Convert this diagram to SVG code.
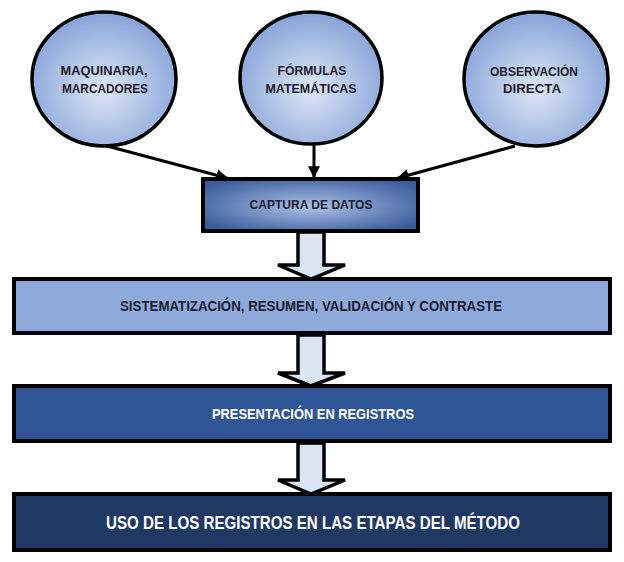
<svg xmlns="http://www.w3.org/2000/svg" width="624" height="562" viewBox="0 0 624 562">
  <defs>
    <radialGradient id="gCircle" cx="50%" cy="58%" r="55%">
      <stop offset="0" stop-color="#dfe8f7"/>
      <stop offset="1" stop-color="#8aa6d9"/>
    </radialGradient>
    <radialGradient id="gCapt" cx="50%" cy="50%" r="60%" fx="50%" fy="55%">
      <stop offset="0" stop-color="#adc2e6"/>
      <stop offset="1" stop-color="#3a5d9d"/>
    </radialGradient>
    <marker id="ah" viewBox="0 0 10 10" refX="9" refY="5" markerWidth="4" markerHeight="4" orient="auto" markerUnits="strokeWidth">
      <path d="M0,0 L10,5 L0,10 Z" fill="#000"/>
    </marker>
    <style>
      .circ { fill: url(#gCircle); stroke: #000; stroke-width: 3.5; }
      .box { stroke: #000; stroke-width: 4; }
      .t { font-family: "Liberation Sans", Arial, sans-serif; font-weight: bold; text-anchor: middle; }
      .dark { fill: #1b1c2c; }
      .light { fill: #ffffff; }
      .conn { stroke: #000; stroke-width: 3; fill: none; }
      .blk { fill: #dbe4f3; stroke: #000; stroke-width: 3.5; stroke-linejoin: miter; }
    </style>
  </defs>

  <g id="n-maquinaria">
    <ellipse class="circ" cx="104" cy="79" rx="72" ry="67"/>
    <text class="t dark" x="104" y="75" font-size="13.5" textLength="87" lengthAdjust="spacingAndGlyphs">MAQUINARIA,</text>
    <text class="t dark" x="105" y="93" font-size="13.5" textLength="86" lengthAdjust="spacingAndGlyphs">MARCADORES</text>
  </g>
  <g id="n-formulas">
    <ellipse class="circ" cx="311" cy="78" rx="71" ry="66"/>
    <text class="t dark" x="312" y="75" font-size="13.5" textLength="69" lengthAdjust="spacingAndGlyphs">FÓRMULAS</text>
    <text class="t dark" x="311" y="93" font-size="13.5" textLength="91" lengthAdjust="spacingAndGlyphs">MATEMÁTICAS</text>
  </g>
  <g id="n-observacion">
    <ellipse class="circ" cx="536" cy="79" rx="72" ry="67"/>
    <text class="t dark" x="534" y="76" font-size="13.5" textLength="88" lengthAdjust="spacingAndGlyphs">OBSERVACIÓN</text>
    <text class="t dark" x="532" y="93" font-size="13.5" textLength="58" lengthAdjust="spacingAndGlyphs">DIRECTA</text>
  </g>

  <g id="n-captura">
    <rect class="box" x="203" y="179" width="215" height="52" fill="url(#gCapt)"/>
    <text class="t dark" x="311" y="209" font-size="13.5" textLength="123" lengthAdjust="spacingAndGlyphs">CAPTURA DE DATOS</text>
  </g>
  <g id="n-sistematizacion">
    <rect class="box" x="14" y="279" width="596" height="54" fill="#8eaadb"/>
    <text class="t dark" x="311" y="311" font-size="15" textLength="382" lengthAdjust="spacingAndGlyphs">SISTEMATIZACIÓN, RESUMEN, VALIDACIÓN Y CONTRASTE</text>
  </g>
  <g id="n-presentacion">
    <rect class="box" x="14" y="386" width="596" height="55" fill="#2f5597"/>
    <text class="t light" x="313" y="419" font-size="15" textLength="202" lengthAdjust="spacingAndGlyphs">PRESENTACIÓN EN REGISTROS</text>
  </g>
  <g id="n-uso">
    <rect class="box" x="14" y="494" width="596" height="56" fill="#1f3864"/>
    <text class="t light" x="313" y="529" font-size="18.5" textLength="414" lengthAdjust="spacingAndGlyphs">USO DE LOS REGISTROS EN LAS ETAPAS DEL MÉTODO</text>
  </g>

  <g id="connectors">
    <line class="conn" x1="107" y1="146" x2="227" y2="178" marker-end="url(#ah)"/>
    <line class="conn" x1="314" y1="143" x2="314" y2="177" marker-end="url(#ah)"/>
    <line class="conn" x1="515" y1="146" x2="398" y2="178" marker-end="url(#ah)"/>
    <path class="blk" d="M298,232 L324,232 L324,265 L345,265 L311,279 L278,265 L298,265 Z"/>
    <path class="blk" d="M298,335 L324,335 L324,373 L345,373 L311,386 L278,373 L298,373 Z"/>
    <path class="blk" d="M298,443 L324,443 L324,480 L345,480 L311,494 L278,480 L298,480 Z"/>
  </g>
</svg>
